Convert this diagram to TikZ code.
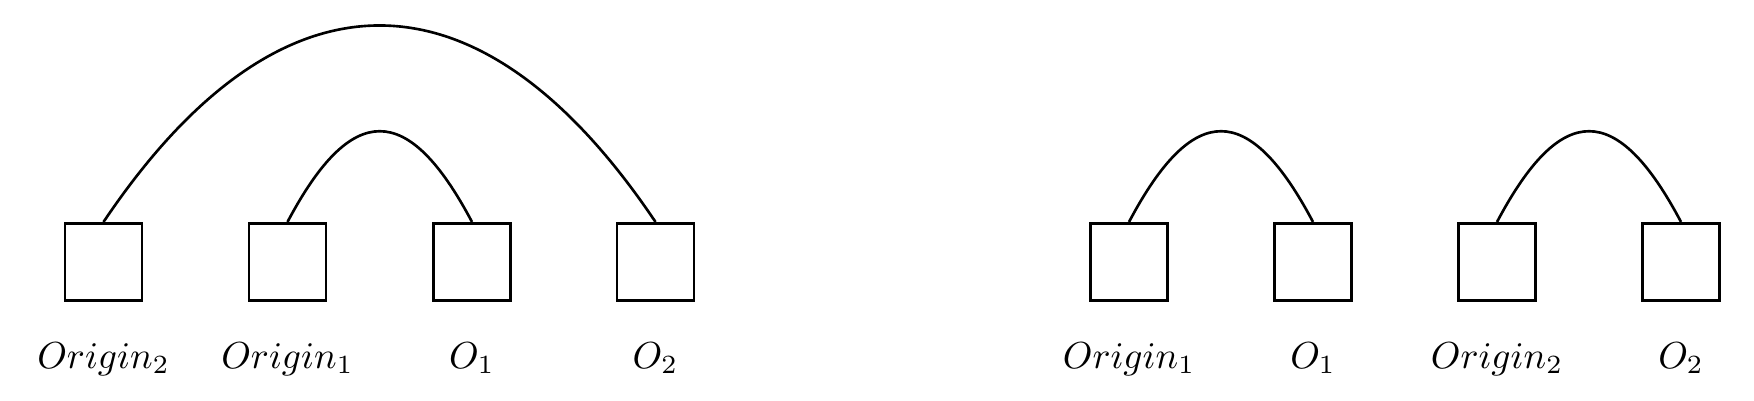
\documentclass[tikz,border=0pt]{standalone}
\begin{document}
\begin{tikzpicture}[x=0.266pt,y=-0.266pt,
  box/.style={draw,line width=0.7pt,minimum size=20.5pt,inner sep=0pt},
  lab/.style={anchor=base,inner sep=0pt},
  arc/.style={line width=0.7pt}]
\useasboundingbox (0,0) rectangle (1754,400);
% left group
\node[box] (o2a) at (103.5,261.8) {};
\node[box] (o1a) at (287.5,261.8) {};
\node[box] (p1a) at (472,261.8) {};
\node[box] (p2a) at (655.5,261.8) {};
\node[lab] (lo2a) at (103.5,368) {$Origin_2$};
\node[lab] (lo1a) at (287.5,368) {$Origin_1$};
\node[lab] (lp1a) at (472,368) {$O_1$};
\node[lab] (lp2a) at (655.5,368) {$O_2$};
\draw[arc] (o2a.north) .. controls +(176,-262) and +(-176,-262) .. (p2a.north);
\draw[arc] (o1a.north) .. controls +(64,-121) and +(-64,-121) .. (p1a.north);
% right group
\node[box] (o1b) at (1129,261.8) {};
\node[box] (p1b) at (1313,261.8) {};
\node[box] (o2b) at (1497,261.8) {};
\node[box] (p2b) at (1681,261.8) {};
\node[lab] (lo1b) at (1129,368) {$Origin_1$};
\node[lab] (lp1b) at (1313,368) {$O_1$};
\node[lab] (lo2b) at (1497,368) {$Origin_2$};
\node[lab] (lp2b) at (1681,368) {$O_2$};
\draw[arc] (o1b.north) .. controls +(64,-121) and +(-64,-121) .. (p1b.north);
\draw[arc] (o2b.north) .. controls +(64,-121) and +(-64,-121) .. (p2b.north);
\end{tikzpicture}
\end{document}
